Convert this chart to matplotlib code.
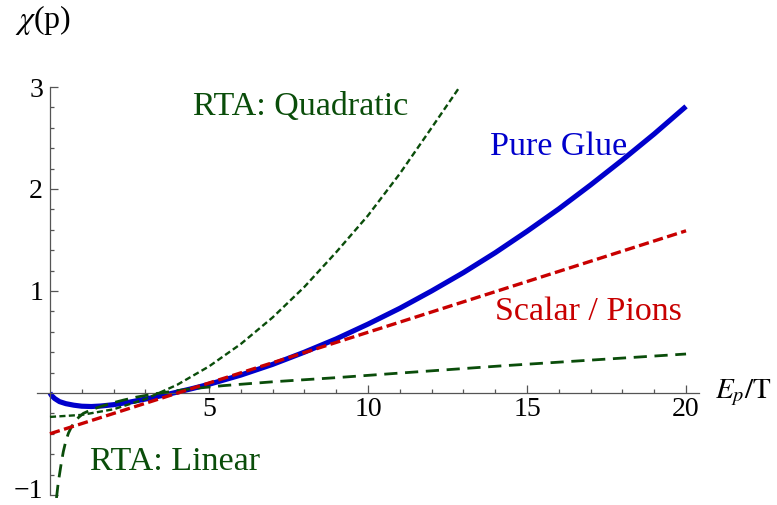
import matplotlib
matplotlib.use("Agg")
import matplotlib.pyplot as plt
from matplotlib.ticker import FixedLocator
from matplotlib.transforms import ScaledTranslation

plt.rcParams['font.family'] = ['Liberation Serif', 'DejaVu Serif']
plt.rcParams['mathtext.fontset'] = 'stix'
plt.rcParams['lines.scale_dashes'] = False

# curves
glue_x = [0, 0.05, 0.15, 0.3, 0.5, 0.75, 1.0, 1.3, 1.6, 2.0, 2.5, 3.0, 3.5, 4.0, 4.5,
          5, 6, 7, 8, 9, 10, 11, 12, 13, 14, 15, 16, 17, 18, 19, 20]
glue_y = [0, -0.025, -0.055, -0.085, -0.105, -0.12, -0.13, -0.133, -0.128, -0.115,
          -0.09, -0.06, -0.027, 0.008, 0.045, 0.085, 0.175, 0.28, 0.40, 0.53, 0.675,
          0.83, 1.0, 1.18, 1.375, 1.585, 1.805, 2.04, 2.285, 2.54, 2.81]

pion_x = [0, 20]
pion_y = [-0.40, 1.59]

quad_x = [0, 1, 2, 3, 4, 5, 6, 7, 8, 9, 10, 11, 12, 12.88]
quad_y = [-0.235, -0.215, -0.16, -0.06, 0.08, 0.26, 0.48, 0.74, 1.04, 1.38, 1.74,
          2.15, 2.6, 3.0]

lin_x = [0.205, 0.26, 0.31, 0.36, 0.42, 0.5, 0.58, 0.68, 0.79, 0.9, 1.05, 1.25, 1.5,
         1.78, 2.0, 2.31, 2.73, 3.36, 4.41, 5.46, 7.03, 9, 11, 14.17, 17, 20]
lin_y = [-1.03, -0.88, -0.78, -0.68, -0.575, -0.47, -0.395, -0.33, -0.28, -0.24, -0.2,
         -0.172, -0.143, -0.115, -0.095, -0.07, -0.04, -0.005, 0.04, 0.072, 0.11, 0.15,
         0.195, 0.265, 0.322, 0.382]

x_major = [5, 10, 15, 20]
y_major = [-1, 1, 2, 3]

blue = '#0000cc'
red = '#c80000'
green = '#0a4d0a'
axis_col = '#555555'

fig = plt.figure(figsize=(7.77, 5.05), dpi=100)
ax = fig.add_axes([36.6 / 777, 7 / 505, 662.8 / 777, 411 / 505])

ax.plot(glue_x, glue_y, color=blue, lw=3.7, solid_capstyle='butt', zorder=2)
ax.plot(quad_x, quad_y, color=green, lw=1.7, dashes=(4.4, 2.4), zorder=3)
ax.plot(lin_x, lin_y, color=green, lw=2.0, dashes=(9.5, 5.5), zorder=3)
ax.plot(pion_x, pion_y, color=red, lw=2.4, dashes=(7.4, 3.2), zorder=4)

ax.set_xlim(-0.42, 20.42)
ax.set_ylim(-1.03, 3.0)

for s in ['top', 'right']:
    ax.spines[s].set_visible(False)
ax.spines['left'].set_position(('data', 0))
ax.spines['bottom'].set_position(('data', 0))
ax.spines['left'].set_bounds(-1, 3)
for s in ['left', 'bottom']:
    ax.spines[s].set_color(axis_col)
    ax.spines[s].set_linewidth(0.9)

ax.xaxis.set_major_locator(FixedLocator(x_major))
ax.yaxis.set_major_locator(FixedLocator(y_major))
ax.xaxis.set_minor_locator(FixedLocator([v for v in range(1, 21) if v % 5 != 0]))
ax.yaxis.set_minor_locator(FixedLocator([v / 5 for v in range(-5, 16) if v % 5 != 0]))
ax.set_yticklabels(['\u22121', '1', '2', '3'])
ax.set_xticklabels([str(v) for v in x_major])
ax.tick_params(which='both', direction='in', color=axis_col, width=0.9,
               labelsize=20, labelcolor='black')
ax.tick_params(which='major', length=5.8)
ax.tick_params(which='minor', length=3.2)
ax.tick_params(axis='x', which='major', pad=3)
ax.tick_params(axis='y', which='major', pad=5)
ax.patch.set_visible(False)

# nudge the bottom label up so it stays inside the figure
lab = ax.get_yticklabels()[0]
lab.set_transform(lab.get_transform() + ScaledTranslation(0, 6 / 100, fig.dpi_scale_trans))

ax.text(4.5, 2.725, 'RTA: Quadratic', color=green, fontsize=24.5, va='baseline')
ax.text(13.84, 2.33, 'Pure Glue', color=blue, fontsize=24.5, va='baseline')
ax.text(14.0, 0.716, 'Scalar / Pions', color=red, fontsize=24.5, va='baseline')
ax.text(1.26, -0.755, 'RTA: Linear', color=green, fontsize=24.5, va='baseline')
ax.text(20.9, -0.05, r'$E_p/\mathrm{T}$', fontsize=21, va='baseline')
fig.text(15 / 777, 1 - 28 / 505, r'$\chi$(p)', fontsize=23, va='baseline')

fig.savefig('out.png', dpi=100)
